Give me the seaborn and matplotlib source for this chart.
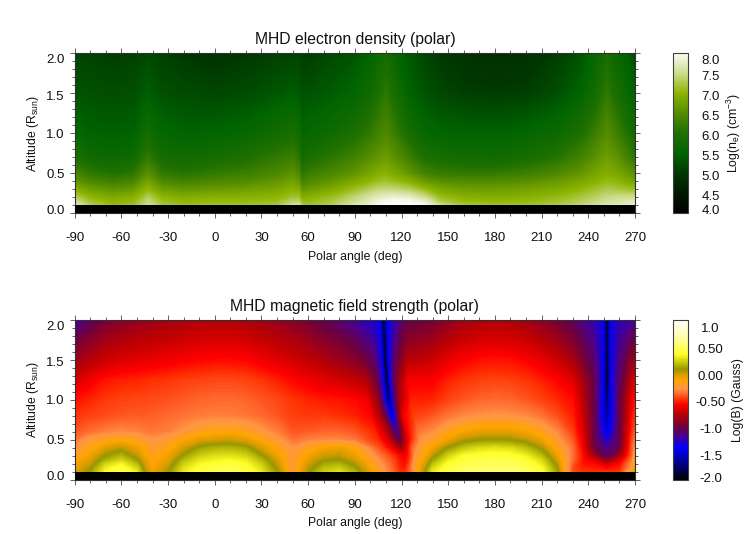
import numpy as np
import matplotlib
matplotlib.use("Agg")
import matplotlib.pyplot as plt
import seaborn as sns
from matplotlib.colors import LinearSegmentedColormap, Normalize
from matplotlib.cm import ScalarMappable
from matplotlib.ticker import FixedLocator, NullFormatter
from matplotlib.transforms import ScaledTranslation

# ---------- electron density (log10 cm^-3) ----------
ne_angles = [-90,-80,-65,-52,-46,-43,-40,-34,-20,0,20,40,50,54,56,60,75,90,100,105,110,115,125,135,145,160,180,200,220,235,245,252,259,265,270]
ne_alts = [0.10,0.15,0.20,0.30,0.40,0.50,0.70,1.00,1.50,2.00]
ne_010 = [7.7,7.3,7.05,7.15,7.4,7.5,7.45,7.2,7.1,7.15,7.15,7.2,7.55,7.6,7.25,7.15,7.3,7.65,7.8,7.95,8.0,8.0,8.0,7.95,7.5,7.2,7.15,7.15,7.25,7.4,7.55,7.65,7.7,7.75,7.8]
ne_015 = [7.5,7.15,6.95,7.05,7.3,7.42,7.35,7.1,7.0,7.05,7.05,7.1,7.35,7.35,7.05,7.05,7.2,7.5,7.7,7.85,7.92,7.97,7.95,7.75,7.25,7.05,7.0,7.05,7.15,7.3,7.45,7.55,7.6,7.65,7.7]
ne_020 = [7.3,7.0,6.85,6.95,7.15,7.3,7.2,7.0,6.9,6.95,6.95,7.0,7.15,7.15,6.9,6.95,7.1,7.4,7.6,7.7,7.78,7.82,7.75,7.5,7.1,6.95,6.9,6.95,7.05,7.2,7.35,7.45,7.5,7.5,7.5]
ne_030 = [6.95,6.7,6.55,6.65,6.9,7.0,6.9,6.7,6.6,6.65,6.7,6.8,6.95,6.88,6.55,6.65,6.85,7.1,7.3,7.4,7.42,7.4,7.3,7.05,6.82,6.7,6.7,6.75,6.85,7.0,7.15,7.25,7.2,7.15,7.1]
ne_040 = [6.6,6.4,6.25,6.35,6.65,6.75,6.65,6.4,6.3,6.4,6.45,6.6,6.75,6.62,6.3,6.4,6.6,6.85,7.0,7.1,7.15,7.08,6.9,6.65,6.5,6.45,6.45,6.5,6.65,6.8,6.95,7.05,7.0,6.85,6.75]
ne_050 = [6.35,6.15,6.0,6.1,6.4,6.5,6.4,6.15,6.05,6.15,6.25,6.4,6.55,6.42,6.1,6.2,6.4,6.6,6.8,6.9,6.95,6.85,6.6,6.3,6.2,6.15,6.15,6.25,6.4,6.6,6.8,6.9,6.8,6.65,6.5]
ne_070 = [5.95,5.75,5.65,5.75,6.05,6.15,6.05,5.85,5.75,5.85,5.95,6.15,6.25,6.1,5.8,5.9,6.1,6.3,6.5,6.6,6.68,6.55,6.25,5.95,5.85,5.78,5.76,5.85,6.05,6.3,6.55,6.7,6.55,6.3,6.1]
ne_100 = [5.6,5.48,5.45,5.48,5.7,5.8,5.7,5.58,5.5,5.52,5.6,5.8,5.9,5.8,5.55,5.6,5.75,5.95,6.15,6.3,6.42,6.25,5.85,5.62,5.52,5.5,5.48,5.55,5.7,5.95,6.25,6.48,6.25,6.0,5.75]
ne_150 = [5.32,5.28,5.25,5.28,5.38,5.42,5.38,5.28,5.22,5.18,5.22,5.35,5.42,5.38,5.28,5.3,5.4,5.55,5.75,5.95,6.12,5.9,5.5,5.3,5.18,5.08,5.05,5.08,5.25,5.5,5.85,6.15,5.85,5.65,5.45]
ne_200 = [5.15,5.12,5.05,5.1,5.15,5.2,5.15,5.1,5.0,4.92,5.0,5.1,5.12,5.12,5.05,5.05,5.2,5.3,5.5,5.65,5.82,5.6,5.35,5.15,5.0,4.9,4.85,4.88,5.05,5.3,5.6,5.88,5.6,5.45,5.2]

# ---------- magnetic field (log10 Gauss) ----------
b_alts = [0.10,0.15,0.20,0.25,0.30,0.40,0.50,0.60,0.80,1.00,1.25,1.50,1.75,2.00]
b_left_angles = [-90,-80,-70,-60,-50,-45,-40,-30,-20,-10,0,10,20,30,40,50,60,70,80,90]
b_mid_angles = [140,150,160,170,180,190,200,210,220,230]
b_end_angles = [270]
sheet1_center = [122,122,122,122,122,120,118.5,117,114,112,110.5,109.5,109,108.5]
sheet2_center = [252,252,252,252,252,252,252,252,252,252,252,252,252,252]
sheet1_offsets = [-14,-7,-3,-1.2,0,1.2,3,7,14]
sheet2_offsets = [-16,-8,-3,-1.2,0,1.2,3,8,16]

b_010 = [-.05,.08,.35,.45,.30,.05,-.10,.05,.30,.40,.45,.47,.42,.30,.08,-.25,.05,.22,.28,.15, -.25,-.4,-.5,-.5,-.5,-.48,-.42,-.25,.1, .3,.42,.5,.52,.53,.52,.48,.38,.1,-.45, -.5,-.5,-.5,-.5,-.5,-.5,-.5,-.5,-.15, -.05]
b_015 = [-.08,.05,.30,.40,.24,.02,-.12,.02,.27,.37,.42,.44,.39,.26,.04,-.25,.02,.18,.22,.10, -.28,-.42,-.52,-.54,-.54,-.5,-.42,-.2,.05, .25,.40,.47,.5,.5,.5,.45,.35,.07,-.45, -.52,-.54,-.56,-.58,-.58,-.58,-.56,-.54,-.25, -.08]
b_020 = [-.12,.00,.24,.33,.17,-.02,-.14,-.02,.22,.33,.38,.40,.35,.22,.00,-.25,-.02,.12,.15,.04, -.3,-.44,-.54,-.56,-.56,-.55,-.46,-.22,.0, .18,.36,.44,.47,.47,.47,.42,.3,.03,-.42, -.55,-.58,-.66,-.7,-.72,-.7,-.66,-.58,-.3, -.12]
b_025 = [-.17,-.04,.14,.24,.08,-.06,-.16,-.06,.16,.28,.32,.34,.30,.16,-.04,-.25,-.06,.06,.08,-.02, -.34,-.46,-.56,-.58,-.58,-.57,-.5,-.24,-.05, .1,.3,.4,.43,.43,.43,.37,.25,-.03,-.38, -.55,-.68,-.85,-.9,-.9,-.9,-.85,-.68,-.35, -.17]
b_030 = [-.22,-.08,.08,.16,.02,-.10,-.18,-.09,.09,.22,.27,.28,.24,.09,-.08,-.26,-.10,.0,.02,-.07, -.38,-.5,-.58,-.6,-.6,-.59,-.52,-.27,-.1, .02,.24,.36,.39,.4,.39,.32,.18,-.08,-.37, -.55,-.85,-1.02,-1.05,-1.05,-1.05,-1.02,-.85,-.4, -.22]
b_040 = [-.30,-.17,-.04,.02,-.07,-.16,-.23,-.17,-.02,.10,.15,.16,.11,-.03,-.16,-.29,-.19,-.11,-.08,-.15, -.44,-.6,-.74,-.8,-.82,-.78,-.66,-.4,-.18, -.1,.08,.2,.26,.28,.26,.18,.05,-.17,-.37, -.6,-1.02,-1.13,-1.17,-1.18,-1.17,-1.13,-1.02,-.42, -.30]
b_050 = [-.36,-.24,-.19,-.15,-.20,-.25,-.28,-.23,-.13,-.05,-.02,-.01,-.05,-.15,-.25,-.37,-.33,-.31,-.31,-.35, -.5,-.7,-.95,-1.02,-1.05,-1.0,-.85,-.55,-.27, -.22,-.08,.03,.07,.08,.07,.02,-.08,-.25,-.42, -.62,-1.05,-1.2,-1.26,-1.28,-1.26,-1.2,-1.05,-.45, -.36]
b_060 = [-.42,-.37,-.33,-.30,-.32,-.34,-.35,-.33,-.27,-.19,-.16,-.15,-.18,-.26,-.33,-.42,-.41,-.39,-.39,-.42, -.52,-.75,-1.0,-1.12,-1.18,-1.1,-.95,-.6,-.36, -.3,-.18,-.1,-.06,-.05,-.06,-.1,-.19,-.31,-.47, -.65,-1.05,-1.3,-1.42,-1.48,-1.42,-1.3,-1.05,-.5, -.42]
b_080 = [-.49,-.46,-.44,-.42,-.41,-.41,-.40,-.38,-.36,-.34,-.33,-.33,-.35,-.38,-.42,-.47,-.48,-.48,-.50,-.53, -.58,-.85,-1.15,-1.4,-1.5,-1.38,-1.1,-.62,-.47, -.42,-.36,-.31,-.29,-.28,-.29,-.31,-.36,-.44,-.53, -.7,-1.05,-1.38,-1.55,-1.7,-1.55,-1.38,-1.05,-.57, -.5]
b_100 = [-.56,-.52,-.48,-.46,-.45,-.45,-.44,-.43,-.41,-.39,-.38,-.38,-.39,-.42,-.45,-.49,-.52,-.54,-.55,-.57, -.62,-.9,-1.3,-1.62,-1.85,-1.58,-1.2,-.8,-.53, -.52,-.46,-.42,-.39,-.38,-.39,-.42,-.46,-.51,-.56, -.75,-1.05,-1.38,-1.6,-1.9,-1.6,-1.38,-1.05,-.63, -.56]
b_125 = [-.70,-.62,-.55,-.53,-.52,-.51,-.5,-.49,-.47,-.46,-.45,-.45,-.46,-.49,-.53,-.58,-.62,-.66,-.70,-.75, -.78,-.98,-1.3,-1.65,-2.0,-1.65,-1.25,-.9,-.6, -.6,-.53,-.49,-.47,-.46,-.47,-.49,-.53,-.59,-.66, -.82,-1.05,-1.35,-1.65,-2,-1.65,-1.35,-1.1,-.75, -.7]
b_150 = [-.86,-.78,-.72,-.68,-.66,-.65,-.64,-.62,-.6,-.58,-.57,-.57,-.58,-.62,-.66,-.7,-.75,-.8,-.86,-.93, -.98,-1.1,-1.3,-1.65,-2.0,-1.65,-1.3,-1.05,-.78, -.72,-.64,-.59,-.56,-.55,-.56,-.59,-.64,-.72,-.82, -.95,-1.12,-1.35,-1.65,-2,-1.65,-1.35,-1.15,-.9, -.86]
b_175 = [-1.02,-.92,-.84,-.8,-.77,-.76,-.75,-.73,-.71,-.69,-.68,-.68,-.7,-.73,-.77,-.81,-.86,-.92,-.98,-1.06, -1.12,-1.2,-1.35,-1.65,-2.0,-1.65,-1.35,-1.15,-.92, -.85,-.78,-.72,-.69,-.68,-.69,-.72,-.78,-.85,-.95, -1.05,-1.18,-1.35,-1.65,-2,-1.65,-1.35,-1.2,-1.05, -1.02]
b_200 = [-1.2,-1.1,-.98,-.92,-.88,-.87,-.85,-.83,-.81,-.8,-.79,-.8,-.81,-.84,-.87,-.92,-.98,-1.05,-1.12,-1.2, -1.25,-1.3,-1.4,-1.65,-2.0,-1.65,-1.4,-1.25,-1.05, -.98,-.9,-.84,-.81,-.8,-.81,-.84,-.9,-.98,-1.08, -1.15,-1.25,-1.38,-1.65,-2,-1.65,-1.38,-1.25,-1.2, -1.2]

# ---------- labels and ticks ----------
x_major = [-90,-60,-30,0,30,60,90,120,150,180,210,240,270]
x_labels = ["-90","-60","-30","0","30","60","90","120","150","180","210","240","270"]
x_minor = list(range(-90,271,10))
y_major = [0.0,0.5,1.0,1.5,2.0]
y_labels = ["0.0","0.5","1.0","1.5","2.0"]
y_minor = [i/10 for i in range(0,21)]
y_label_shift = [4,0,0,-2,-6]
ne_ticks = [4.0,4.5,5.0,5.5,6.0,6.5,7.0,7.5,8.0]
ne_tick_labels = ["4.0","4.5","5.0","5.5","6.0","6.5","7.0","7.5","8.0"]
ne_shift = [4,-2,-2,-2,-2,-2,-2,-2,-7]
ne_minor = [4+i*0.25 for i in range(17)]
b_ticks = [-2.0,-1.5,-1.0,-0.5,0.0,0.5,1.0]
b_tick_labels = ["-2.0","-1.5","-1.0","-0.50","0.00","0.50","1.0"]
b_shift = [3,-2,-2,-2,-2,-2,-7]
b_minor = [-2+i*0.25 for i in range(13)]
base_top = 0.104

# ---------- colours ----------
ne_colors = [(0,0,0),(0,25,0),(0,55,0),(0,100,0),(30,112,0),(85,140,0),(140,180,0),(205,220,140),(252,252,248)]
b_nodes = [(-2,(0,0,0)),(-1.7,(0,0,130)),(-1.4,(0,0,255)),(-1.15,(80,0,130)),(-1.0,(110,0,60)),(-0.75,(190,0,0)),
           (-0.58,(255,0,0)),(-0.5,(255,45,0)),(-0.4,(255,95,40)),(-0.28,(255,150,70)),(-0.125,(255,165,0)),(-0.01,(215,155,0)),
           (0.08,(150,150,0)),(0.2,(195,195,10)),(0.36,(255,255,40)),(0.55,(255,255,120)),(0.75,(255,255,190)),(1.0,(255,255,250))]

sns.set_theme(style="ticks", font="Liberation Sans")
plt.rcParams.update({"mathtext.fontset":"custom","mathtext.rm":"Liberation Sans","mathtext.default":"regular",
                     "axes.linewidth":0.8,"axes.edgecolor":"#303030"})

def rgb(c):
    return tuple(v/255 for v in c)

ne_cmap = LinearSegmentedColormap.from_list("ne", sns.blend_palette([rgb(c) for c in ne_colors], n_colors=256))
b_cmap = LinearSegmentedColormap.from_list("bf", [((v+2)/3, rgb(c)) for v, c in b_nodes], N=256)

W, H = 747, 534
fig = plt.figure(figsize=(W/100, H/100), dpi=100)

def px_axes(l, t, r, b):
    return fig.add_axes([l/W, 1-b/H, (r-l)/W, (b-t)/H])

def shift_labels(labels, shifts):
    for lab, s in zip(labels, shifts):
        lab.set_transform(lab.get_transform() + ScaledTranslation(0, s/100, fig.dpi_scale_trans))

def style_main(ax, title):
    ax.set_xlim(-90, 270); ax.set_ylim(0, 2.0)
    ax.axhspan(0, base_top, color="black", lw=0, zorder=3)
    ax.xaxis.set_major_locator(FixedLocator(x_major)); ax.xaxis.set_minor_locator(FixedLocator(x_minor))
    ax.yaxis.set_major_locator(FixedLocator(y_major)); ax.yaxis.set_minor_locator(FixedLocator(y_minor))
    ax.set_xticklabels(x_labels); ax.set_yticklabels(y_labels)
    ax.tick_params(which="major", direction="out", length=3.8, width=0.7, color="#606060",
                   top=True, right=True, labelsize=9.5, labelcolor="#111111")
    ax.tick_params(which="minor", direction="out", length=2, width=0.7, color="#606060", top=True, right=True)
    ax.tick_params(axis="x", which="major", pad=9.9)
    ax.tick_params(axis="y", which="major", pad=3.5)
    shift_labels(ax.get_yticklabels(), y_label_shift)
    ax.set_title(title, fontsize=11.3, pad=6.7, color="#111111")
    ax.set_xlabel("Polar angle (deg)", fontsize=8.8, labelpad=4.5, color="#111111")
    ax.set_ylabel(r"Altitude (R$_{sun}$)", fontsize=8.8, labelpad=4, color="#111111")

def style_cbar(cax, mappable, ticks, labels, minor, shifts, label, label_x):
    cb = fig.colorbar(mappable, cax=cax)
    cb.outline.set_linewidth(0.8); cb.outline.set_edgecolor("#404040")
    cax.yaxis.set_major_locator(FixedLocator(ticks)); cax.yaxis.set_minor_locator(FixedLocator(minor))
    cax.yaxis.set_minor_formatter(NullFormatter())
    cax.set_yticklabels(labels)
    cax.tick_params(which="major", direction="in", length=3.2, width=0.7, color="#404040",
                    left=True, right=True, labelsize=9.5, pad=16.5, labelcolor="#111111")
    cax.tick_params(which="minor", direction="in", length=1.6, width=0.7, color="#404040", left=True, right=True)
    for lab in cax.get_yticklabels():
        lab.set_ha("center")
    shift_labels(cax.get_yticklabels(), shifts)
    cax.set_ylabel(label, fontsize=8.8, color="#111111")
    cax.yaxis.set_label_coords(label_x, 0.5)

# ---------- density panel ----------
ax1 = px_axes(74.7, 53, 635, 213.3)
Z_ne = np.array([ne_010,ne_015,ne_020,ne_030,ne_040,ne_050,ne_070,ne_100,ne_150,ne_200])
ne_norm = Normalize(4, 8)
ax1.contourf(ne_angles, ne_alts, Z_ne, levels=np.linspace(4, 8, 257), cmap=ne_cmap, norm=ne_norm, extend="both")
style_main(ax1, "MHD electron density (polar)")
cax1 = px_axes(672.5, 53, 687.5, 213.3)
style_cbar(cax1, ScalarMappable(ne_norm, ne_cmap), ne_ticks, ne_tick_labels, ne_minor, ne_shift,
           r"Log(n$_e$) (cm$^{-3}$)", 3.5)

# ---------- magnetic field panel ----------
ax2 = px_axes(74.7, 320, 635, 480)
Z_b = np.array([b_010,b_015,b_020,b_025,b_030,b_040,b_050,b_060,b_080,b_100,b_125,b_150,b_175,b_200])
X_b = np.array([b_left_angles + [c+o for o in sheet1_offsets] + b_mid_angles + [d+o for o in sheet2_offsets] + b_end_angles
                for c, d in zip(sheet1_center, sheet2_center)], dtype=float)
Y_b = np.repeat(np.array(b_alts)[:, None], X_b.shape[1], axis=1)
b_norm = Normalize(-2, 1)
ax2.contourf(X_b, Y_b, Z_b, levels=np.linspace(-2, 1, 257), cmap=b_cmap, norm=b_norm, extend="both")
style_main(ax2, "MHD magnetic field strength (polar)")
cax2 = px_axes(672.5, 320, 687.5, 480)
style_cbar(cax2, ScalarMappable(b_norm, b_cmap), b_ticks, b_tick_labels, b_minor, b_shift, "Log(B) (Gauss)", 3.95)

fig.savefig("out.png", dpi=100)
